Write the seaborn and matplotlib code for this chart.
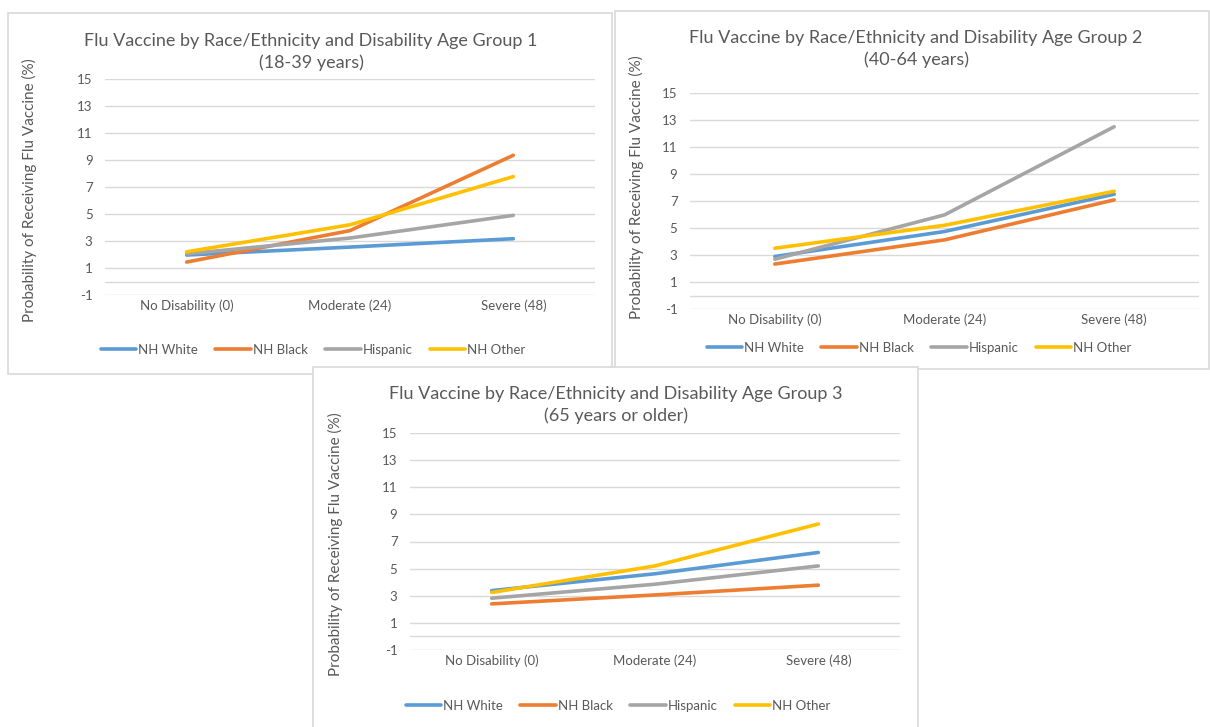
import matplotlib
matplotlib.use("Agg")
import matplotlib.pyplot as plt
from matplotlib.patches import Rectangle
import seaborn as sns
import pandas as pd

# values (probability of receiving flu vaccine, %)
levels = ["No Disability (0)", "Moderate (24)", "Severe (48)"]
races = ["NH White", "NH Black", "Hispanic", "NH Other"]

g1_white = [1.96, 2.55, 3.17]
g1_black = [1.44, 3.77, 9.35]
g1_hisp = [2.05, 3.22, 4.90]
g1_other = [2.20, 4.20, 7.77]

g2_white = [2.89, 4.74, 7.50]
g2_black = [2.33, 4.12, 7.08]
g2_hisp = [2.69, 5.97, 12.50]
g2_other = [3.50, 5.20, 7.72]

g3_white = [3.38, 4.62, 6.19]
g3_black = [2.40, 3.06, 3.78]
g3_hisp = [2.82, 3.85, 5.20]
g3_other = [3.24, 5.20, 8.29]

titles = ["Flu Vaccine by Race/Ethnicity and Disability Age Group 1\n(18-39 years)",
          "Flu Vaccine by Race/Ethnicity and Disability Age Group 2\n(40-64 years)",
          "Flu Vaccine by Race/Ethnicity and Disability Age Group 3\n(65 years or older)"]
yticks = list(range(-1, 16, 2))
ylab = "Probability of Receiving Flu Vaccine (%)"

colors = ["#5B9BD5", "#ED7D31", "#A5A5A5", "#FFC000"]
grey_txt = "#595959"
grid_col = "#D9D9D9"

sns.set_style("white")
plt.rcParams["font.family"] = ["Lato", "DejaVu Sans"]
plt.rcParams["axes.unicode_minus"] = False

W, H = 1210, 727
fig = plt.figure(figsize=(W / 100, H / 100), dpi=100)


def frac_rect(x0, y0, x1, y1):
    return [x0 / W, 1 - y1 / H, (x1 - x0) / W, (y1 - y0) / H]


def make_df(series):
    rows = []
    for race, vals in zip(races, series):
        for lev, v in zip(levels, vals):
            rows.append({"Disability": lev, "Race": race, "Prob": v})
    return pd.DataFrame(rows)


# chart boxes (pixel boxes), plot areas, title/ylabel/legend anchors
panels = [
    dict(box=(8, 13, 612, 374), area=(105, 79, 595, 295), title=(311, 52),
         ylab=(29, 190), leg=(313, 350), z=-2,
         data=[g1_white, g1_black, g1_hisp, g1_other], title_txt=titles[0]),
    dict(box=(615, 11, 1209, 369), area=(690, 93, 1199, 309), title=(916, 49),
         ylab=(636, 187), leg=(919, 348), z=-2,
         data=[g2_white, g2_black, g2_hisp, g2_other], title_txt=titles[1]),
    dict(box=(313, 367, 918, 730), area=(410, 433, 900, 650), title=(616, 405),
         ylab=(335, 544), leg=(618, 706), z=-1,
         data=[g3_white, g3_black, g3_hisp, g3_other], title_txt=titles[2]),
]

for p in panels:
    bx = frac_rect(*p["box"])
    fig.add_artist(Rectangle((bx[0], bx[1]), bx[2], bx[3], transform=fig.transFigure,
                             facecolor="white", edgecolor=grid_col, lw=1.2, zorder=p["z"]))

    ax = fig.add_axes(frac_rect(*p["area"]))
    ax.set_facecolor("none")
    df = make_df(p["data"])
    sns.lineplot(data=df, x="Disability", y="Prob", hue="Race", hue_order=races,
                 palette=colors, sort=False, lw=2.6, ax=ax, legend=False)
    ax.set_xlim(-0.5, 2.5)
    ax.set_ylim(-1, 15)
    ax.set_yticks(yticks)
    ax.yaxis.grid(True, color=grid_col, lw=1)
    ax.axhline(0, color=grid_col, lw=1, zorder=0)
    ax.set_axisbelow(True)
    for s in ax.spines.values():
        s.set_visible(False)
    ax.tick_params(axis="y", length=0, pad=9, labelsize=9.5, labelcolor=grey_txt)
    ax.tick_params(axis="x", length=0, pad=3, labelsize=9.5, labelcolor=grey_txt)
    ax.set_xlabel("")
    ax.set_ylabel("")

    tx, ty = p["title"]
    fig.text(tx / W, 1 - ty / H, p["title_txt"], ha="center", va="center",
             fontsize=13, color=grey_txt, linespacing=1.35)
    lx, ly = p["ylab"]
    fig.text(lx / W, 1 - ly / H, ylab, rotation=90, ha="center", va="center",
             fontsize=11, color=grey_txt)

    handles = [plt.Line2D([], [], color=c, lw=2.6) for c in colors]
    gx, gy = p["leg"]
    fig.legend(handles, races, loc="center", bbox_to_anchor=(gx / W, 1 - gy / H),
               ncol=4, frameon=False, fontsize=9.5, handlelength=2.7,
               handletextpad=0.15, columnspacing=1.3, labelcolor=grey_txt)

fig.savefig("out.png", dpi=100)
